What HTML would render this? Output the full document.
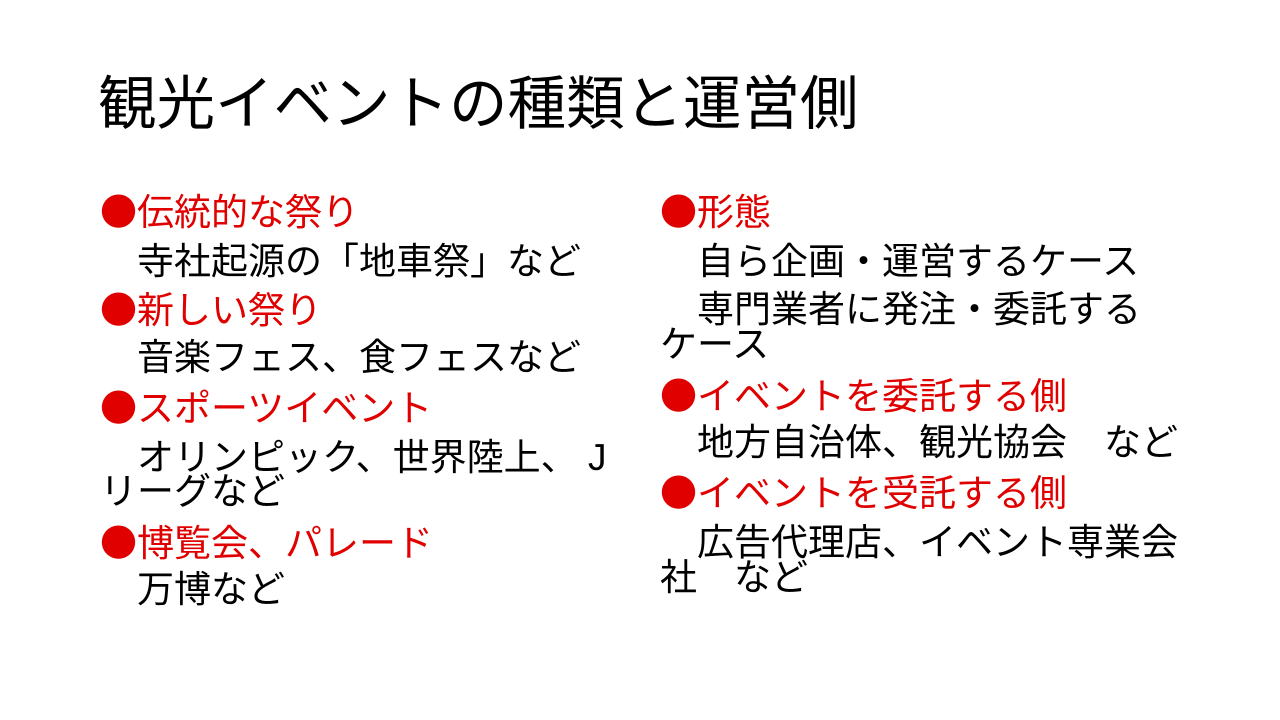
<!DOCTYPE html>
<html><head><meta charset="utf-8"><style>
body{margin:0;width:1280px;height:720px;background:#fff;overflow:hidden;position:relative;font-family:"Liberation Sans","Noto Sans CJK JP",sans-serif;}
.t{position:absolute;left:98px;top:70px;font-size:58.5px;line-height:70px;color:#000;white-space:nowrap;}
.l{position:absolute;font-size:37px;line-height:40px;white-space:nowrap;color:#000;}
.r{color:#e00000;margin-top:-3px;}
.b{font-family:"Noto Sans CJK JP",sans-serif;}
</style></head><body>
<div class="t">観光イベントの種類と運営側</div>
<div class="l r" style="left:100px;top:192px"><span class="b">●</span>伝統的な祭り</div>
<div class="l" style="left:100px;top:242px">　寺社起源の「地車祭」など</div>
<div class="l r" style="left:100px;top:290px"><span class="b">●</span>新しい祭り</div>
<div class="l" style="left:100px;top:338px">　音楽フェス、食フェスなど</div>
<div class="l r" style="left:100px;top:388px"><span class="b">●</span>スポーツイベント</div>
<div class="l" style="left:100px;top:438px">　オリンピック、世界陸上、&nbsp;J</div>
<div class="l" style="left:100px;top:472px">リーグなど</div>
<div class="l r" style="left:100px;top:523px"><span class="b">●</span>博覧会、パレード</div>
<div class="l" style="left:100px;top:570px">　万博など</div>

<div class="l r" style="left:660px;top:192px"><span class="b">●</span>形態</div>
<div class="l" style="left:660px;top:242px">　自ら企画・運営するケース</div>
<div class="l" style="left:660px;top:290px">　専門業者に発注・委託する</div>
<div class="l" style="left:660px;top:325px">ケース</div>
<div class="l r" style="left:660px;top:376px"><span class="b">●</span>イベントを委託する側</div>
<div class="l" style="left:660px;top:423px">　地方自治体、観光協会　など</div>
<div class="l r" style="left:660px;top:473px"><span class="b">●</span>イベントを受託する側</div>
<div class="l" style="left:660px;top:523px">　広告代理店、イベント専業会</div>
<div class="l" style="left:660px;top:558px">社　など</div>
</body></html>
